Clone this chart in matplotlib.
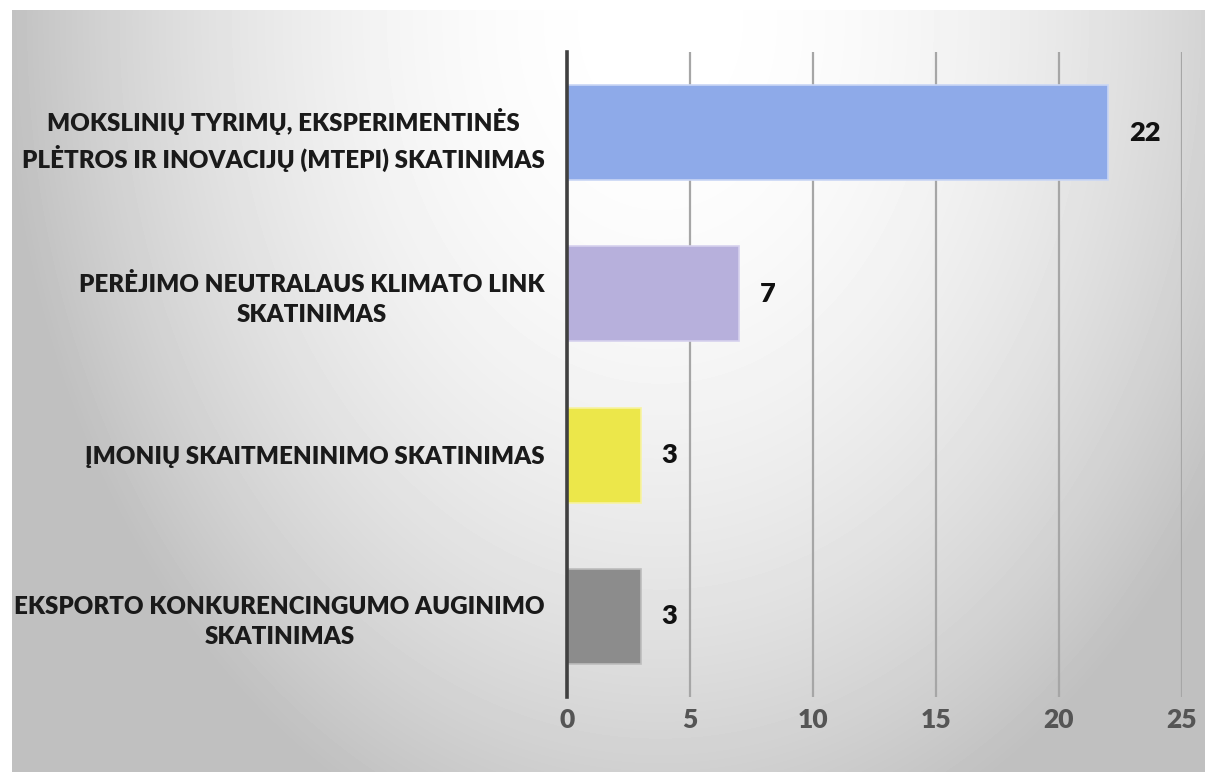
import numpy as np
import matplotlib
matplotlib.use("Agg")
import matplotlib.pyplot as plt

# Data (top to bottom)
categories = [
    "MOKSLINIŲ TYRIMŲ, EKSPERIMENTINĖS\nPLĖTROS IR INOVACIJŲ (MTEPI) SKATINIMAS",
    "PERĖJIMO NEUTRALAUS KLIMATO LINK\nSKATINIMAS",
    "ĮMONIŲ SKAITMENINIMO SKATINIMAS",
    "EKSPORTO KONKURENCINGUMO AUGINIMO\nSKATINIMAS",
]
values = [22, 7, 3, 3]
bar_colors = ["#8eaae9", "#b7b0dc", "#ece74a", "#8c8c8c"]
x_ticks = [0, 5, 10, 15, 20, 25]

W, H = 1205, 772
fig = plt.figure(figsize=(W / 100, H / 100), dpi=100, facecolor="white")

# grey gradient background, white near the top centre
bg = fig.add_axes([12 / W, 0, 1 - 12 / W, 1 - 10 / H], zorder=-1)
yy, xx = np.mgrid[10:H, 12:W]
dx = (xx - 660) / 640.0
dy = (yy - 20) / 850.0
shade = 255 - 60 * (dx ** 2 + dy ** 2)
shade = np.clip(shade, 192, 255) / 255.0
bg.imshow(shade, cmap="gray", vmin=0, vmax=1, aspect="auto",
          extent=[0, 1, 0, 1], interpolation="bilinear")
bg.axis("off")

ax = fig.add_axes([567 / W, 1 - 697 / H, (1182 - 567) / W, (697 - 52) / H])
ax.set_facecolor("none")

ypos = np.arange(len(categories))
ax.barh(ypos, values, height=0.59, color=bar_colors,
        edgecolor=["#c9d6f5", "#d6d1ee", "#f7f3a0", "#bdbdbd"], linewidth=1.2,
        zorder=3)

for y, v in zip(ypos, values):
    ax.annotate(str(v), (v, y), xytext=(15, 0), textcoords="offset points",
                ha="left", va="center", fontsize=19.5, fontweight="heavy",
                family="Lato", color="#111111")

ax.set_ylim(len(categories) - 0.5, -0.5)
ax.set_xlim(0, 25)
ax.set_xticks(x_ticks)
ax.set_yticks(ypos)
ax.set_yticklabels(categories, fontsize=17.4, fontweight="heavy", family="Lato",
                   color="#1a1a1a", multialignment="center", linespacing=1.45)
ax.set_xticklabels([str(t) for t in x_ticks], fontsize=19, fontweight="heavy",
                   family="Lato", color="#555555")
ax.tick_params(axis="both", length=0)
ax.tick_params(axis="y", pad=16)
ax.tick_params(axis="x", pad=8)

ax.grid(axis="x", color="#a6a6a6", linewidth=1.6, zorder=0)
for s in ["top", "right", "bottom"]:
    ax.spines[s].set_visible(False)
ax.spines["left"].set_color("#404040")
ax.spines["left"].set_linewidth(2.6)
ax.spines["left"].set_zorder(4)

fig.savefig("out.png", dpi=100, facecolor="white")
